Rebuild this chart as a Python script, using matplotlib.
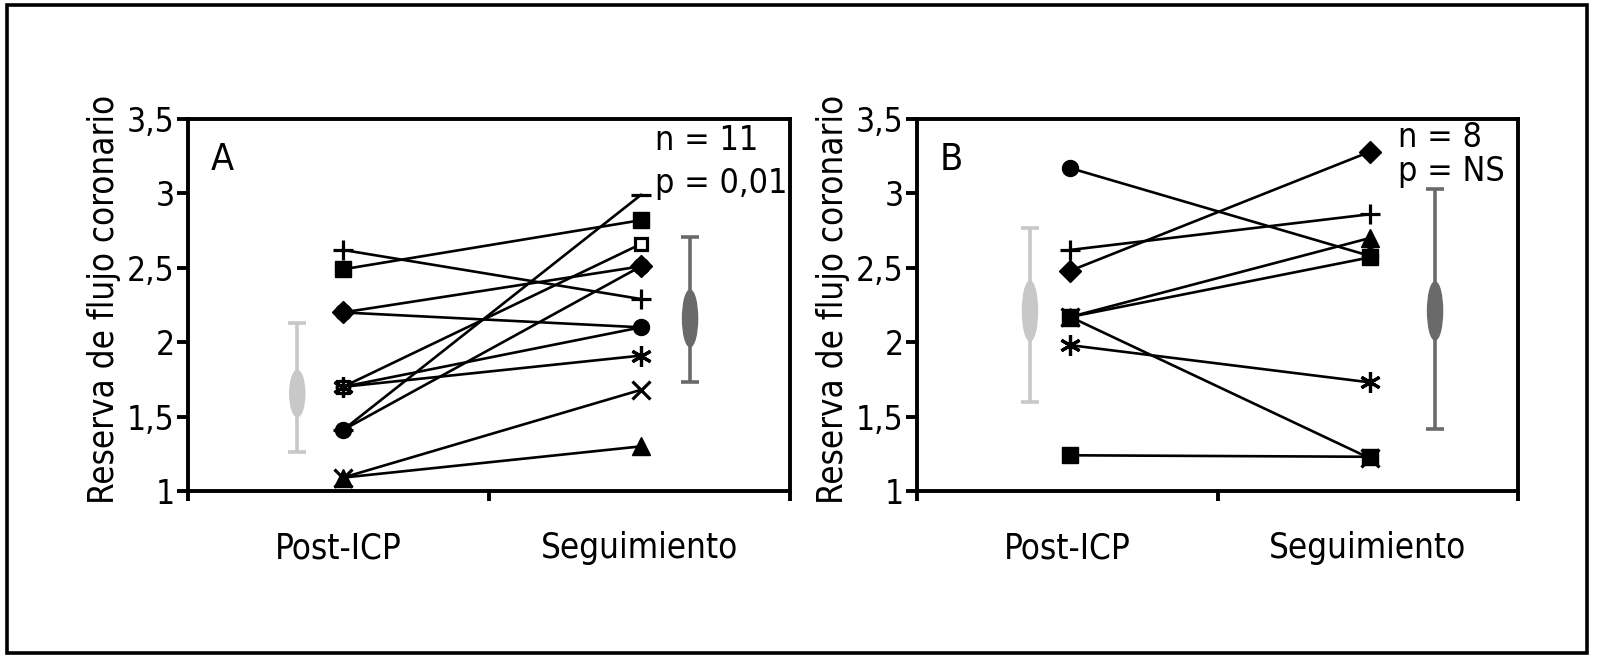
import matplotlib.pyplot as plt
from matplotlib import font_manager
from matplotlib.patches import Ellipse, Rectangle

# buscar una fuente estrecha; si no, Liberation Sans algo mas pequena
cond = [f for f in font_manager.fontManager.ttflist
        if (f.stretch in ('condensed', 'semi-condensed', 'extra-condensed')
            or 'Condensed' in f.name or 'Narrow' in f.name)
        and f.style == 'normal' and f.weight in (300, 400, 'normal', 'light')]
if cond:
    f0 = cond[0]
    plt.rcParams['font.family'] = [f0.name, 'DejaVu Sans']
    plt.rcParams['font.stretch'] = f0.stretch
    plt.rcParams['font.weight'] = f0.weight
    k = 1.0
else:
    plt.rcParams['font.family'] = ['Liberation Sans', 'DejaVu Sans']
    k = 0.9

groups = ['Post-ICP', 'Seguimiento']
yticks = [1, 1.5, 2, 2.5, 3, 3.5]
ytick_labels = ['1', '1,5', '2', '2,5', '3', '3,5']

# panel A: 11 pacientes
a_post = [1.70, 2.62, 2.49, 2.20, 2.20, 1.70, 1.70, 1.41, 1.41, 1.09, 1.09]
a_seg = [2.10, 2.29, 2.82, 2.10, 2.51, 2.66, 1.91, 2.51, 2.99, 1.68, 1.30]
a_mean = [1.655, 2.16]
a_sem = [0.155, 0.19]
a_low = [1.26, 1.73]
a_high = [2.13, 2.71]
a_text = ['n = 11', 'p = 0,01']

# panel B: 8 pacientes
b_post = [3.17, 2.62, 2.48, 2.17, 2.17, 2.17, 1.98, 1.24]
b_seg = [2.58, 2.86, 3.28, 2.70, 2.57, 1.22, 1.73, 1.23]
b_mean = [2.21, 2.21]
b_sem = [0.20, 0.195]
b_low = [1.60, 1.42]
b_high = [2.77, 3.03]
b_text = ['n = 8', 'p = NS']

a_marks = ['o', '+', 's', 'o', 'D', 's', (6, 2, 0), 'o', '_', 'x', '^']
a_faces = ['w', 'k', 'k', 'k', 'k', 'w', 'k', 'k', 'k', 'k', 'k']
b_marks = ['o', '+', 'D', '^', 's', 'x', (6, 2, 0), 's']
b_faces = ['k'] * 8

LIGHT = '#c8c8c8'
DARK = '#6a6a6a'
SPW = 2.8


def msize(m, fc):
    if fc == 'w':
        return 9
    if m in ('+', '_'):
        return 15
    if m == 'x':
        return 13
    if isinstance(m, tuple):
        return 15
    if m == '^':
        return 13
    return 11.5


def panel(ax, post, seg, marks, faces, mean, sem, low, high, xs, xbar, letter, txt, tpos):
    for p, s in zip(post, seg):
        ax.plot(xs, [p, s], color='k', lw=1.9, zorder=2)
    for p, s, m, fc in zip(post, seg, marks, faces):
        thin = m in ('+', 'x', '_') or isinstance(m, tuple) or fc == 'w'
        ax.plot(xs, [p, s], ls='none', marker=m, ms=msize(m, fc), mfc=fc, mec='k',
                mew=2.3 if thin else 1, zorder=3)
    for xb, mu, se, lo, hi, col in zip(xbar, mean, sem, low, high, [LIGHT, DARK]):
        ax.errorbar([xb], [mu], yerr=[[mu - lo], [hi - mu]], color=col, lw=2.6,
                    capsize=6.5, capthick=2.6, zorder=2)
        ax.add_patch(Ellipse((xb, mu), 0.05, 2 * se, color=col, zorder=3))

    ax.set_xlim(0, 2)
    ax.set_ylim(1, 3.5)
    ax.set_xticks([0, 1, 2])
    ax.set_xticklabels([])
    ax.set_xticks([0.5, 1.5], minor=True)
    ax.set_xticklabels(groups, minor=True, fontsize=25 * k)
    ax.tick_params(axis='x', which='major', direction='out', length=7, width=SPW)
    ax.tick_params(axis='x', which='minor', length=0, pad=29)
    ax.set_yticks(yticks)
    ax.set_yticklabels(ytick_labels, fontsize=24 * k)
    ax.tick_params(axis='y', direction='out', length=8, width=SPW, pad=1.5)
    for sp in ax.spines.values():
        sp.set_linewidth(SPW)
    ax.set_ylabel('Reserva de flujo coronario', fontsize=25 * k)
    ax.yaxis.set_label_coords(-0.112, 0.515)

    ax.text(0.075, 3.16, letter, fontsize=27 * k, va='baseline', ha='left')
    ax.text(tpos[0], tpos[1], txt[0], fontsize=24.5 * k, va='baseline', ha='left')
    ax.text(tpos[0], tpos[2], txt[1], fontsize=24.5 * k, va='baseline', ha='left')


fig = plt.figure(figsize=(15.97, 6.61), dpi=100)
axA = fig.add_axes([188 / 1597, 170 / 661, 602 / 1597, 372 / 661])
axB = fig.add_axes([917 / 1597, 170 / 661, 601 / 1597, 372 / 661])

panel(axA, a_post, a_seg, a_marks, a_faces, a_mean, a_sem, a_low, a_high,
      [0.515, 1.505], [0.363, 1.668], 'A', a_text, (1.55, 3.29, 3.0))
panel(axB, b_post, b_seg, b_marks, b_faces, b_mean, b_sem, b_low, b_high,
      [0.51, 1.507], [0.376, 1.724], 'B', b_text, (1.6, 3.31, 3.08))

fig.patches.append(Rectangle((7 / 1597, 8 / 661), 1580 / 1597, 648 / 661,
                             transform=fig.transFigure, fill=False, lw=2.6,
                             edgecolor='k'))

fig.savefig('out.png', dpi=100)
